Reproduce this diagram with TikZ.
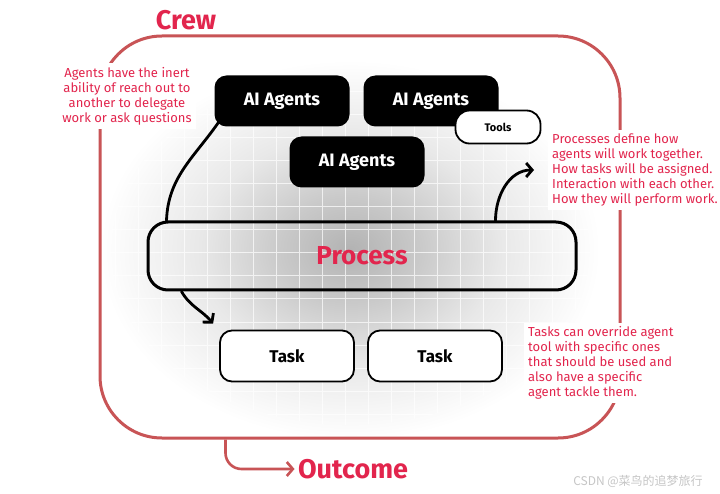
\documentclass[tikz,border=0pt]{standalone}
\usepackage{fontspec}
\setmainfont{Fira Sans}
\newfontfamily\cjkfont{Noto Sans CJK SC}
\usepackage{tikz}
\usetikzlibrary{arrows.meta}

\definecolor{crewred}{RGB}{226,37,77}
\definecolor{framered}{RGB}{200,84,86}
\pgfdeclareradialshading{glow}{\pgfpoint{0bp}{0bp}}{color(0bp)=(black!30); color(3.5bp)=(black!21); color(7.5bp)=(black!9); color(12.5bp)=(white); color(50bp)=(white)}

\begin{document}
\begin{tikzpicture}[
		x=1pt, y=-1pt,
		agent/.style={
			rectangle,
			rounded corners=12pt,
			fill=black,
			text=white,
			font=\fontsize{18}{20}\selectfont\bfseries,
			minimum width=135pt,
			minimum height=51pt
		},
		taskbox/.style={
			rectangle,
			rounded corners=12pt,
			draw=black,
			line width=1.8pt,
			fill=white,
			font=\fontsize{17}{19}\selectfont\bfseries,
			minimum width=134pt,
			minimum height=51pt
		},
		note/.style={
			text=crewred,
			fill=white,
			font=\fontsize{13}{15}\selectfont,
			inner sep=4pt
		},
		title/.style={
			text=crewred,
			font=\fontsize{27}{30}\selectfont\bfseries
		},
		link/.style={
			line width=2.8pt,
			line cap=round
		},
		arrow/.style={
			link,
			-{Straight Barb[length=6pt,width=14pt]}
		}
	]
	\useasboundingbox (0,0) rectangle (720,494);
	
	% grey glow with a faint grid
	\fill[shading=glow] (350,250) ellipse [x radius=500, y radius=380];
	\begin{scope}
		\clip (350,250) ellipse [x radius=240, y radius=175];
		\draw[white, opacity=0.7, line width=1pt, step=23pt] (100,40) grid (620,440);
	\end{scope}
	
	\node[draw=framered, line width=3pt, rounded corners=62pt, minimum width=520pt, minimum height=402pt] (crew) at (360,237) {};
	\node[title] (crewlbl) at (186,20) {Crew};
	\node[title] (outcome) at (353,469) {Outcome};
	
	\node[note, align=center] (agnote) at (127,96) {Agents have the inert\\ability of reach out to\\another to delegate\\work or ask questions};
	\node[note, align=left, anchor=west] (pnote) at (548,170) {Processes define how\\agents will work together.\\How tasks will be assigned.\\Interaction with each other.\\How they will perform work.};
	\node[note, align=left, anchor=west] (tnote) at (524,363) {Tasks can override agent\\tool with specific ones\\that should be used and\\also have a specific\\agent tackle them.};
	
	\node[agent] (ag1) at (282,101) {AI Agents};
	\node[agent] (ag2) at (431,101) {AI Agents};
	\node[agent] (ag3) at (357,162) {AI Agents};
	\node[rectangle, rounded corners=14pt, draw=black, line width=1.8pt, fill=white, font=\fontsize{11}{13}\selectfont\bfseries, minimum width=85pt, minimum height=33pt] (tools) at (498,127) {Tools};
	
	\node[rectangle, rounded corners=20pt, draw=black, line width=3pt, text=crewred, font=\fontsize{26}{28}\selectfont\bfseries, minimum width=428pt, minimum height=68pt] (proc) at (362,256) {Process};
	
	\node[taskbox] (t1) at (287,356) {Task};
	\node[taskbox] (t2) at (435,356) {Task};
	
	\draw[link] ([shift={(4pt,4pt)}]ag1.south west) to[out=235,in=88] ([xshift=20pt]proc.north west);
	\draw[arrow] ([xshift=35pt]proc.south west) to[out=-60,in=130] ([shift={(-6pt,6pt)}]t1.north west);
	\draw[arrow] ([xshift=-82pt]proc.north east) to[out=90,in=180] ([xshift=-14pt]pnote.west);
	\draw[framered, line width=2.6pt, rounded corners=16pt, -{Straight Barb[length=6pt,width=14pt]}] ([xshift=127pt]crew.south west) |- (outcome.west);
	
	\node[text=gray!45, font=\cjkfont\fontsize{12}{14}\selectfont] (mark) at (638,481) {CSDN @菜鸟的追梦旅行};
	
\end{tikzpicture}
\end{document}
